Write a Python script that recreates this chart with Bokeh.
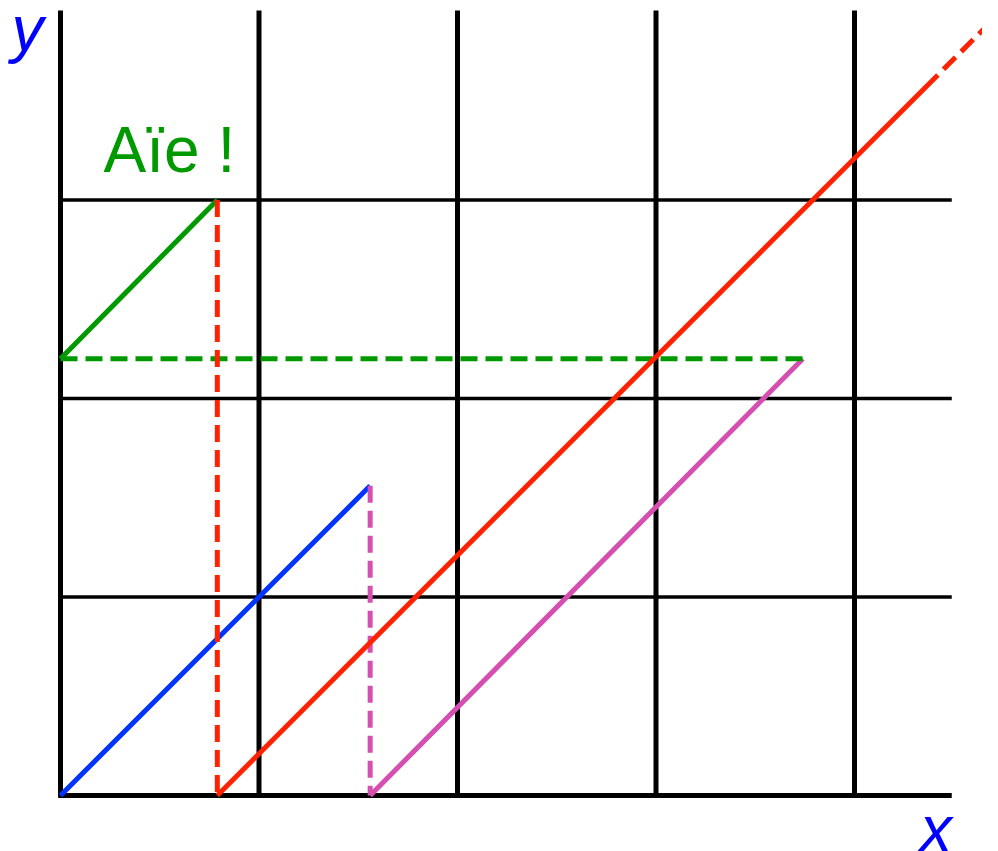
from bokeh.plotting import figure
from bokeh.models import Range1d
from bokeh.core.properties import value
from bokeh.embed import file_html
from bokeh.resources import INLINE

# ---- data (units of the grid) ----
grid_x = [0, 1, 2, 3, 4]          # vertical black lines
grid_y = [1, 2, 3]                # horizontal black lines
grid_top = 3.955
grid_right = 4.49

blue_x = [0, 1.56]
blue_y = [0, 1.56]
pink_dash_x = [1.56, 1.56]
pink_dash_y = [1.56, 0]
pink_x = [1.56, 3.74]
pink_y = [0, 2.2]
green_dash_x = [0, 3.74]
green_dash_y = [2.2, 2.2]
green_x = [0, 0.79]
green_y = [2.2, 3.0]
red_dash_x = [0.79, 0.79]
red_dash_y = [3.0, 0]
red_x = [0.79, 4.42]
red_y = [0, 3.63]
red_tail_x = [4.42, 4.9]
red_tail_y = [3.63, 4.11]

labels = ["Aïe !", "y", "x"]
label_x = [0.217, -0.247, 4.33]
label_y = [3.251, 3.859, -0.17]

# ---- layout: 198.5 px per unit, origin at pixel (60, 795) ----
U = 198.5
OX, OY = 60, 795
W, H = 982, 851

p = figure(width=W, height=H, output_backend="svg", toolbar_location=None,
           x_range=Range1d((0 - OX) / U, (W - OX) / U),
           y_range=Range1d((OY - H) / U, OY / U),
           min_border=0)
p.axis.visible = False
p.grid.visible = False
p.outline_line_color = None
p.background_fill_color = "white"
p.border_fill_color = "white"

# black grid
for gx in grid_x:
    p.line([gx, gx], [0, grid_top], line_color="black", line_width=5)
for gy in grid_y:
    p.line([0, grid_right], [gy, gy], line_color="black", line_width=3.5)
p.line([-0.012, grid_right], [0, 0], line_color="black", line_width=5)

# coloured lines
DASH = "17 8"
p.line(blue_x, blue_y, line_color="#0033ff", line_width=5)
p.line(pink_x, pink_y, line_color="#d44fb0", line_width=5)
p.line(pink_dash_x, pink_dash_y, line_color="#d44fb0", line_width=5, line_dash=DASH)
p.line(green_dash_x, green_dash_y, line_color="#009900", line_width=5, line_dash=DASH)
p.line(green_x, green_y, line_color="#009900", line_width=5)
p.line(red_x, red_y, line_color="#ff2200", line_width=5)
p.line(red_dash_x, red_dash_y, line_color="#ff2200", line_width=5, line_dash=DASH)
p.line(red_tail_x, red_tail_y, line_color="#ff2200", line_width=5, line_dash=DASH,
       line_dash_offset=17)

# texts
p.text(x=[label_x[0]], y=[label_y[0]], text=[labels[0]], text_color="#009900",
       text_font=value("Liberation Sans"), text_font_size="64px",
       text_baseline="alphabetic", text_align="left")
p.text(x=label_x[1:], y=label_y[1:], text=labels[1:], text_color="#0000ff",
       text_font=value("Liberation Sans"), text_font_size="64px",
       text_font_style="italic", text_baseline="alphabetic", text_align="left")

open("out.html", "w").write(file_html(p, INLINE))
